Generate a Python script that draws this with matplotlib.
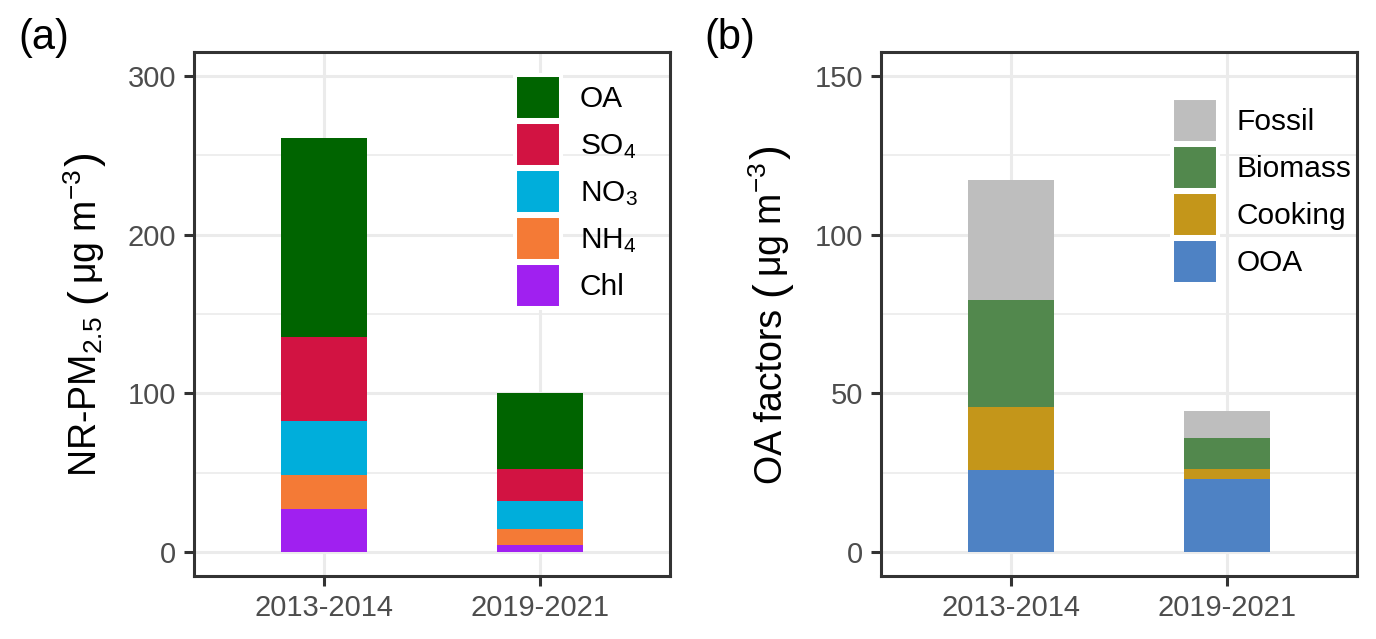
import matplotlib
matplotlib.use("Agg")
import matplotlib.pyplot as plt
from matplotlib.patches import Patch
import numpy as np

plt.rcParams['font.family'] = ['Liberation Sans', 'DejaVu Sans']
plt.rcParams['mathtext.fontset'] = 'custom'
plt.rcParams['mathtext.rm'] = 'Liberation Sans'
plt.rcParams['mathtext.it'] = 'Liberation Sans:italic'
plt.rcParams['mathtext.bf'] = 'Liberation Sans:bold'
plt.rcParams['mathtext.sf'] = 'Liberation Sans'

periods = ["2013-2014", "2019-2021"]

# Panel (a): NR-PM2.5 species (stack order bottom -> top)
species = ["Chl", "NH4", "NO3", "SO4", "OA"]
species_labels = {"OA": "OA", "SO4": "SO$_4$", "NO3": "NO$_3$", "NH4": "NH$_4$", "Chl": "Chl"}
species_colors = {"OA": "#006400", "SO4": "#D21342", "NO3": "#00AEDB", "NH4": "#F47A36", "Chl": "#A020F0"}
chl = [27.0, 4.4]
nh4 = [21.3, 10.0]
no3 = [34.3, 17.6]
so4 = [52.7, 20.1]
oa = [125.7, 48.1]
species_values = {"Chl": chl, "NH4": nh4, "NO3": no3, "SO4": so4, "OA": oa}

# Panel (b): OA factors (stack order bottom -> top)
factors = ["OOA", "Cooking", "Biomass", "Fossil"]
factor_colors = {"Fossil": "#BEBEBE", "Biomass": "#52884D", "Cooking": "#C4961A", "OOA": "#4E82C4"}
ooa = [26.0, 23.1]
cooking = [19.8, 3.2]
biomass = [33.7, 9.5]
fossil = [37.7, 8.8]
factor_values = {"OOA": ooa, "Cooking": cooking, "Biomass": biomass, "Fossil": fossil}

W, H = 1376, 639
fig = plt.figure(figsize=(W / 100, H / 100), dpi=100)
fig.patch.set_facecolor("white")

ax_a = fig.add_axes([194 / W, (H - 576) / H, 476 / W, 524 / H])
ax_b = fig.add_axes([881 / W, (H - 576) / H, 476 / W, 524 / H])

grid_col = "#EBEBEB"
x = np.arange(1, len(periods) + 1)


def style(ax, ymax, major, minor):
    ax.set_xlim(0.4, 2.6)
    ax.set_ylim(-0.05 * ymax, 1.05 * ymax)
    ax.set_yticks(np.arange(0, ymax + 1, major))
    ax.set_yticks(np.arange(minor, ymax, major), minor=True)
    ax.set_xticks(x)
    ax.set_xticklabels(periods)
    ax.set_axisbelow(True)
    ax.grid(True, which="major", color=grid_col, linewidth=2.2)
    ax.grid(True, which="minor", axis="y", color=grid_col, linewidth=1.2)
    ax.tick_params(which="minor", length=0)
    ax.tick_params(which="major", length=7, width=2.2, color="#333333",
                   labelsize=21, labelcolor="#4D4D4D", pad=6)
    for s in ax.spines.values():
        s.set_color("#333333")
        s.set_linewidth(2.2)


def stack(ax, order, values, colors):
    bottom = np.zeros(len(periods))
    for k in order:
        v = np.array(values[k])
        ax.bar(x, v, width=0.4, bottom=bottom, color=colors[k], linewidth=0, zorder=2)
        bottom += v


stack(ax_a, species, species_values, species_colors)
stack(ax_b, factors, factor_values, factor_colors)
style(ax_a, 300, 100, 50)
style(ax_b, 150, 50, 25)

fs = 21.5
fpx = fs * 100 / 72


def legend(ax, order, labels, colors, anchor):
    handles = [Patch(facecolor=colors[k], edgecolor="white", linewidth=2.9, label=labels[k])
               for k in order]
    hh = (45 / fpx - 0.245) / 0.65
    leg = ax.legend(handles=handles, loc="upper left", bbox_to_anchor=anchor,
                    frameon=False, fontsize=fs, borderpad=0, borderaxespad=0,
                    handlelength=46 / fpx, handleheight=hh,
                    labelspacing=2 / fpx, handletextpad=0.63)
    return leg


legend(ax_a, species[::-1], species_labels, species_colors, (0.6744, 0.9561))
legend(ax_b, factors[::-1], {k: k for k in factors}, factor_colors, (0.6113, 0.9122))

fig.text(18 / W, 1 - 38 / H, "(a)", fontsize=30, va="center", ha="left")
fig.text(704 / W, 1 - 38 / H, "(b)", fontsize=30, va="center", ha="left")

renderer = fig.canvas.get_renderer()


def ylabel_compose(x_base_px, center_px, pieces):
    widths = []
    for s, fsz, g in pieces:
        t = fig.text(0, 0, s, fontsize=fsz)
        widths.append(t.get_window_extent(renderer).width)
        t.remove()
    total = sum(widths) + sum(p[2] for p in pieces[:-1])
    y = center_px + total / 2
    for (s, fsz, g), w in zip(pieces, widths):
        fig.text(x_base_px / W, 1 - y / H, s, fontsize=fsz, rotation=90,
                 rotation_mode="anchor", ha="left", va="baseline")
        y -= w + g


center = (52 + 576) / 2
ylabel_compose(97, center, [("NR-PM$_{2.5}$", 27, 13), ("(", 32, 4),
                            ("μg m$^{-3}$", 27, 3), (")", 32, 0)])
ylabel_compose(782, center, [("OA factors", 27, 13), ("(", 32, 4),
                             ("μg m$^{-3}$", 27, 3), (")", 32, 0)])

fig.savefig("out.png", dpi=100)
